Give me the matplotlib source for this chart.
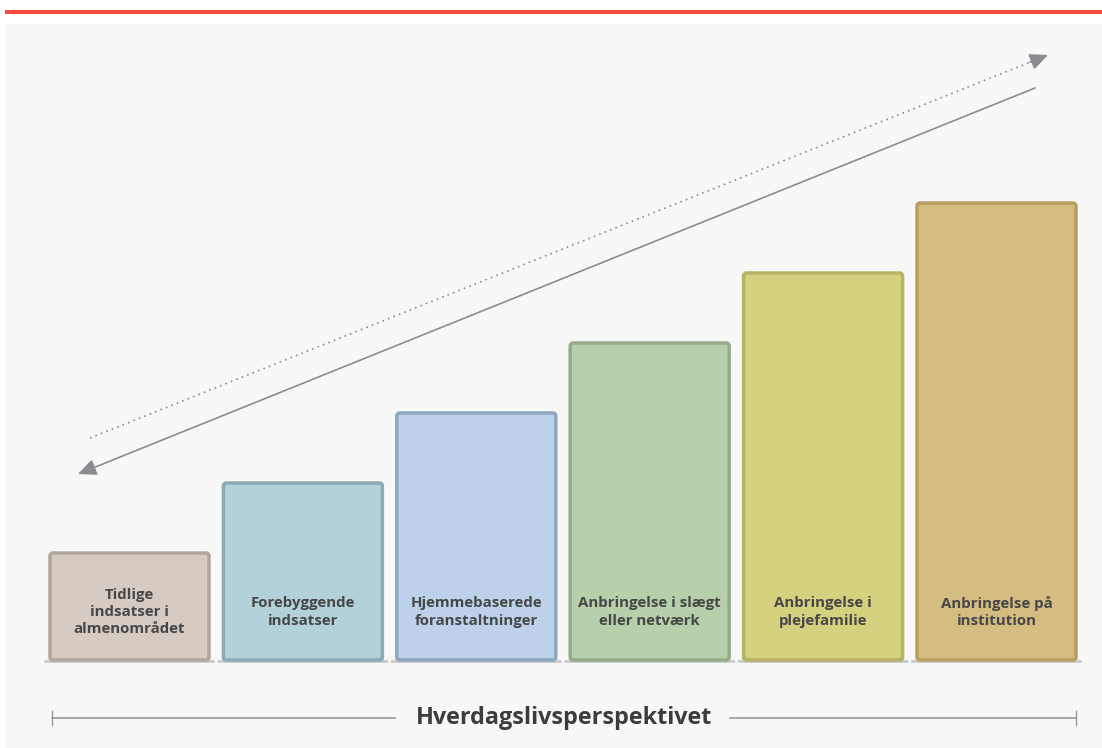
import matplotlib.pyplot as plt
from matplotlib.patches import FancyBboxPatch, Rectangle

plt.rcParams['font.family'] = ['Open Sans', 'DejaVu Sans']

labels = ["Tidlige\nindsatser i\nalmenområdet", "Forebyggende\nindsatser",
          "Hjemmebaserede\nforanstaltninger", "Anbringelse i slægt\neller netværk",
          "Anbringelse i\nplejefamilie", "Anbringelse på\ninstitution"]
heights = [107, 177, 247, 317, 387, 457]
fills = ["#d6cbc2", "#b2d1d8", "#bdd2ea", "#b7cfab", "#d4d17f", "#d5bd81"]
edges = ["#b0a69d", "#8ea9b1", "#8fa6bf", "#95ab8b", "#b6b366", "#b89f60"]
bottom_label = "Hverdagslivsperspektivet"

fig = plt.figure(figsize=(11.02, 7.48), dpi=100)
ax = fig.add_axes([0, 0, 1, 1])
ax.set_xlim(0, 1102)
ax.set_ylim(748, 0)
ax.axis('off')

# background panel and red top rule
ax.add_patch(Rectangle((5, 24), 1097, 724, facecolor="#f8f8f8", edgecolor="none"))
ax.add_patch(Rectangle((5, 10), 1097, 4, facecolor="#f44b3a", edgecolor="none"))

base = 660
x0 = 50
step = 173.4
w = 159
for i, (lab, h) in enumerate(zip(labels, heights)):
    x = x0 + i * step
    # shadow
    ax.add_patch(FancyBboxPatch((x - 6, base), w + 12, 3, boxstyle="round,pad=0,rounding_size=1.5",
                                facecolor="#c8c8cc", edgecolor="none", alpha=0.9))
    ax.add_patch(FancyBboxPatch((x, base - h), w, h, boxstyle="round,pad=0,rounding_size=3",
                                facecolor=fills[i], edgecolor=edges[i], linewidth=2.5))
    ax.text(x + w / 2, 612, lab, ha='center', va='center', fontsize=10.8, fontweight='bold',
            color="#474747", linespacing=1.3)

arrow_col = "#8c8c90"
head = "-|>,head_length=1.1,head_width=0.5"
# dotted arrow (up)
ax.plot([90, 1040], [438, 58.2], color=arrow_col, linestyle=(0, (1, 2.5)), linewidth=1.2)
ax.annotate("", xy=(1048, 55), xytext=(1030, 62.2),
            arrowprops=dict(arrowstyle=head, color=arrow_col, linewidth=1.2, shrinkA=0, shrinkB=0))
# solid arrow (down)
ax.annotate("", xy=(78, 474), xytext=(1035, 88),
            arrowprops=dict(arrowstyle=head, color=arrow_col, linewidth=1.2, shrinkA=0, shrinkB=0))

# bottom scale
ly = 718
ax.plot([52, 395], [ly, ly], color="#9a9a9a", linewidth=1.2)
ax.plot([730, 1076], [ly, ly], color="#9a9a9a", linewidth=1.2)
ax.plot([52, 52], [ly - 7, ly + 7], color="#9a9a9a", linewidth=1)
ax.plot([1076, 1076], [ly - 7, ly + 7], color="#9a9a9a", linewidth=1)
ax.text(564, ly, bottom_label, ha='center', va='center', fontsize=16.8, fontweight='bold',
        color="#3c3c3c")

fig.savefig("out.png", dpi=100)
